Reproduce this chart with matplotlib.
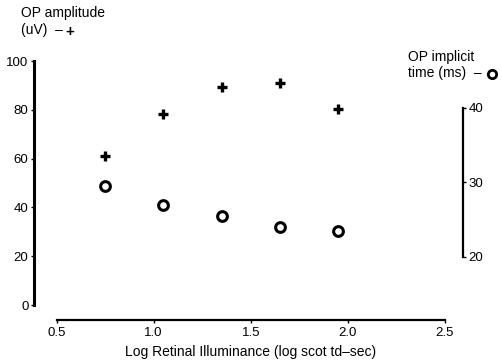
import matplotlib
matplotlib.use('Agg')
from matplotlib import pyplot as plt

plt.rcParams['font.family'] = ['Liberation Sans', 'DejaVu Sans']

# Log retinal illuminance (log scot td-sec)
illum = [0.75, 1.05, 1.35, 1.65, 1.95]
# OP amplitude (uV)
amplitude = [61, 78.5, 89.5, 91, 80.5]
# OP implicit time (ms)
implicit = [29.5, 27.0, 25.5, 24.0, 23.4]

x_ticks = [0.5, 1.0, 1.5, 2.0, 2.5]
x_labels = ['0.5', '1.0', '1.5', '2.0', '2.5']
amp_ticks = [0, 20, 40, 60, 80, 100]
time_ticks = [20, 30, 40]

fig = plt.figure(figsize=(5.01, 3.64), dpi=100)
ax = fig.add_axes([0.113, 0.162, 0.775, 0.670])

ax.plot(illum, amplitude, linestyle='none', marker='+', markersize=7,
        markeredgewidth=2.4, color='black')
ax.set_xlim(0.5, 2.5)
ax.set_ylim(0, 100)

# spines are pushed away from the data area (offsets in points)
for s in ['top', 'right']:
    ax.spines[s].set_visible(False)
ax.spines['left'].set_position(('outward', 16.3))
ax.spines['left'].set_linewidth(2.2)
ax.spines['bottom'].set_position(('outward', 10.8))
ax.spines['bottom'].set_linewidth(1.6)

ax.set_xticks(x_ticks)
ax.set_xticklabels(x_labels)
ax.set_yticks(amp_ticks)
ax.tick_params(axis='both', direction='out', length=2, width=1,
               labelsize=9.5, pad=3)
ax.tick_params(axis='y', pad=2)
ax.set_xlabel('Log Retinal Illuminance (log scot td\u2013sec)', fontsize=10,
              labelpad=4)

# second scale for implicit time
ax2 = ax.twinx()
ax2.plot(illum, implicit, linestyle='none', marker='o', markersize=7,
         markerfacecolor='white', markeredgewidth=2.2, markeredgecolor='black')
ax2.set_ylim(13.5, 46.27)
for s in ['top', 'left', 'bottom']:
    ax2.spines[s].set_visible(False)
ax2.spines['right'].set_position(('outward', 13))
ax2.spines['right'].set_bounds(20, 40)
ax2.spines['right'].set_linewidth(1.6)
ax2.set_yticks(time_ticks)
ax2.tick_params(axis='y', direction='out', length=2, width=1,
                labelsize=9.5, pad=2)

# axis titles with their symbol keys
fig.text(0.042, 0.963, 'OP amplitude', fontsize=10, va='center', ha='left')
fig.text(0.042, 0.917, '(uV)  \u2013', fontsize=10, va='center', ha='left')
fig.text(0.14, 0.913, '+', fontsize=11, fontweight='bold', va='center',
         ha='center')
fig.text(0.815, 0.843, 'OP implicit', fontsize=10, va='center', ha='left')
fig.text(0.815, 0.799, 'time (ms)  \u2013', fontsize=10, va='center',
         ha='left')
fig.lines.append(plt.Line2D([0.982], [0.797], transform=fig.transFigure,
                            marker='o', markersize=6, markerfacecolor='white',
                            markeredgewidth=2, markeredgecolor='black'))

fig.savefig('out.png', dpi=100)
